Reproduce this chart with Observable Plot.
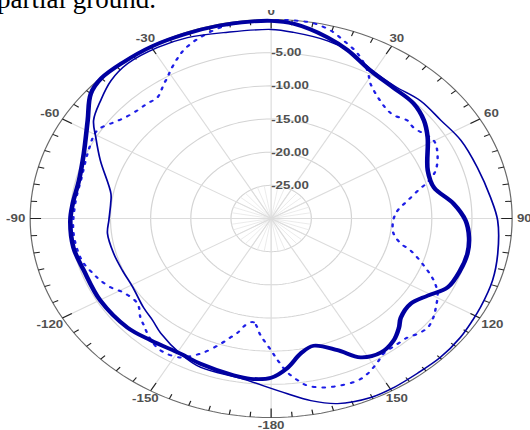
<!DOCTYPE html>
<html><head><meta charset="utf-8">
<script src="https://cdn.jsdelivr.net/npm/d3@7"></script>
<script src="https://cdn.jsdelivr.net/npm/@observablehq/plot@0.6"></script>
<style>
html,body{margin:0;padding:0;background:#fff;width:530px;height:430px;overflow:hidden;}
#wrap{position:relative;width:530px;height:430px;overflow:hidden;}
#cap{position:absolute;left:-3px;top:-14px;width:530px;height:24px;overflow:visible;background:#fff;font-family:"Liberation Serif","Times New Roman",serif;font-size:27px;line-height:27px;color:#000;white-space:nowrap;z-index:2;}
#chart{position:absolute;left:0;top:0;transform-origin:0 0;transform:scaleX(1.211);}
</style></head><body>
<div id="wrap"><div id="cap">partial ground.</div><div id="chart"></div></div>
<script>
// ---- data (angle in degrees, gain in dB) ----
const thickAngles = [-174,-168.8,-158.1,-151,-140.8,-132.6,-120.2,-108.5,-100.1,-90.7,-84.8,-76.6,-67.2,-57.1,-50,-45,-38.2,-29.6,-21.2,-12.8,-4.9,0,5.4,14.4,20.6,29,37.7,45.6,52.1,57.9,69.6,77,84.3,90.7,96.6,102.2,108.4,115.3,120.8,126.4,132.8,136,140.4,146,152,157.4,164.6,169.8,174.8,180];
const thickDb = [-5.7,-5.9,-6.4,-6.7,-6.3,-5.7,-5.4,-5.4,-5.0,-5.0,-5.2,-5.4,-4.7,-2.8,-0.7,-0.1,-0.1,-0.1,-0.2,-0.2,-0.2,-0.2,-0.5,-1.8,-2.9,-4.5,-5.1,-5.2,-5.9,-7.0,-9.2,-9.2,-7.2,-5.8,-5.2,-5.0,-5.2,-5.7,-7.3,-8.4,-8.0,-7.1,-6.1,-5.6,-6.3,-8.5,-10.1,-9.3,-7.4,-6.0];

const thinAngles = [-171.1,-158.7,-151,-141.6,-136.2,-130.2,-121.1,-113,-105.1,-96.3,-90.7,-83.6,-79.3,-67.6,-60.8,-56.2,-50,-43.8,-37.4,-28.7,-20.9,-10.9,0,5.7,14.7,20.6,29,37.7,46.3,55,63.5,73.4,83.4,90.6,100.6,108.7,117.2,121.5,127.3,134.8,142,149.1,155.3,163.5,169.8,175.6,180];
const thinDb = [-5.6,-5.9,-6.7,-7.9,-8.7,-9.2,-9.9,-9.9,-9.7,-9.5,-9.8,-9.9,-9.7,-7.0,-5.0,-3.4,-2.3,-1.2,-0.6,-0.6,-0.8,-1.4,-1.5,-1.8,-2.3,-2.9,-4.3,-4.8,-4.3,-4.2,-3.6,-3.2,-2.5,-1.8,-1.3,-0.9,-0.7,-0.6,-0.4,-0.3,-0.4,-0.3,-0.3,-0.9,-2.1,-3.5,-4.4];

const dotAngles = [-175.8,-172.1,-169.5,-166.4,-164.3,-161.6,-157.4,-154.9,-151.7,-146.5,-142.2,-138.4,-135.5,-132.6,-127.6,-121.3,-117.5,-113.8,-111,-105,-95,-85,-75,-65,-58.5,-53.6,-50.6,-45.6,-41.6,-37.8,-33.3,-31.2,-29.3,-25.8,-23.3,-20.2,-17.8,-13.1,-7.3,0,5.4,10.2,14.6,18.6,23.4,28.3,31.3,36,40.7,44.4,49,52.3,59.8,64.7,70.6,74.4,76.3,81,85.6,91.1,98.4,103.2,105.5,110.5,114.8,118.6,123.2,126.4,130.2,133.6,136.6,140.1,145.4,148.6,152.8,156.2,161.1,165.6,169.8,172.3,175,177.8,180];
const dotDb = [-12.3,-14.2,-13.9,-12.3,-11.4,-10.1,-8.1,-7.2,-6.2,-5.8,-6.1,-6.8,-7.4,-7.9,-9.0,-8.5,-7.5,-6.8,-6.4,-5.6,-5.3,-5.5,-5.6,-5.0,-4.6,-5.6,-6.2,-6.7,-6.8,-6.9,-5.7,-5.1,-4.4,-3.2,-2.4,-1.7,-1.3,-0.6,-0.2,-0.1,0,-0.1,-0.7,-1.7,-2.9,-4.7,-6.2,-7.4,-8.1,-8.2,-7.5,-7.6,-6.6,-7.1,-8.3,-9.8,-10.9,-12.8,-14.2,-14.8,-14.6,-13.4,-12.0,-9.7,-7.7,-6.4,-5.5,-4.9,-4.5,-4.8,-5.3,-5.4,-5.3,-4.6,-3.7,-3.3,-3.4,-3.7,-4.4,-5.4,-6.7,-8.6,-10.1];

const ringTicks = [-25, -20, -15, -10, -5];
const angleTicks = [0, 30, 60, 90, 120, 150, 180, -150, -120, -90, -60, -30];
const angleLabels = ["0","30","60","90","120","150","-180","-150","-120","-90","-60","-30"];
const innerSpokes = d3.range(0, 360, 10);

// ---- geometry helpers ----
const R = 199, W = 438;
const rScale = d3.scaleLinear().domain([-30, 0]).range([0, 1]);
const rad = a => a * Math.PI / 180;
const X = (a, r) => r * Math.sin(rad(a));
const Y = (a, r) => r * Math.cos(rad(a));
const series = (A, D) => A.map((a, i) => ({a, r: rScale(D[i])}));

const thick = series(thickAngles, thickDb);
const thin = series(thinAngles, thinDb);
const dots = series(dotAngles, dotDb);

const circleAngles = d3.range(0, 361, 2);
const rings = ringTicks.flatMap(v => circleAngles.map(a => ({v, a, r: rScale(v)})));
const outer = circleAngles.map(a => ({a, r: rScale(0)}));
const minorTicks = d3.range(-180, 180, 5).map(a => ({a, len: a % 30 === 0 ? 9 / R : 5 / R}));

// angle labels: box placed just outside the ring, pushed out by its half-extent along the direction
const labelRows = angleTicks.map((a, i) => {
  const t = angleLabels[i];
  const w = t.replace("-", "").length * 6.1 + (t.startsWith("-") ? 3.7 : 0);
  const h = 8;
  const s = Math.abs(Math.sin(rad(a))), c = Math.abs(Math.cos(rad(a)));
  const ext = Math.min(s > 1e-6 ? (w / 2) / s : 1e9, c > 1e-6 ? (h / 2) / c : 1e9);
  return {a, t, r: (R * 1.02 + ext) / R};
});

const chart = Plot.plot({
  width: W, height: 430,
  marginTop: 19, marginBottom: 13, marginLeft: 24.4, marginRight: W - 24.4 - 2 * R,
  x: {domain: [-1, 1], axis: null},
  y: {domain: [-1, 1], axis: null},
  style: {background: "transparent", overflow: "visible"},
  marks: [
    Plot.line(rings, {x: d => X(d.a, d.r), y: d => Y(d.a, d.r), z: "v", stroke: "#d4d4d4", strokeWidth: 1}),
    Plot.link(innerSpokes, {x1: 0, y1: 0, x2: a => X(a, rScale(-25)), y2: a => Y(a, rScale(-25)), stroke: "#e8e8e8", strokeWidth: 0.8}),
    Plot.link(angleTicks, {x1: 0, y1: 0, x2: a => X(a, 1), y2: a => Y(a, 1), stroke: "#dcdcdc", strokeWidth: 1}),
    Plot.line(outer, {x: d => X(d.a, d.r), y: d => Y(d.a, d.r), stroke: "#6a6a6a", strokeWidth: 1}),
    Plot.link(minorTicks, {x1: d => X(d.a, 1), y1: d => Y(d.a, 1), x2: d => X(d.a, 1 - d.len), y2: d => Y(d.a, 1 - d.len), stroke: "#222", strokeWidth: 1}),
    Plot.text(ringTicks, {x: 0, y: v => rScale(v), text: v => v.toFixed(2), textAnchor: "start", fill: "#505050", fontWeight: "bold", fontSize: 11, fontFamily: "Liberation Sans, Arial, sans-serif"}),
    Plot.text(labelRows, {x: d => X(d.a, d.r), y: d => Y(d.a, d.r), text: "t", fill: "#505050", fontWeight: "bold", fontSize: 11, fontFamily: "Liberation Sans, Arial, sans-serif"}),
    Plot.line(dots, {x: d => X(d.a, d.r), y: d => Y(d.a, d.r), curve: "catmull-rom-closed", stroke: "#1e1ee6", strokeWidth: 2, strokeDasharray: "2,6"}),
    Plot.line(thin, {x: d => X(d.a, d.r), y: d => Y(d.a, d.r), curve: "catmull-rom-closed", stroke: "#0000a0", strokeWidth: 1.4}),
    Plot.line(thick, {x: d => X(d.a, d.r), y: d => Y(d.a, d.r), curve: "catmull-rom-closed", stroke: "#0000a0", strokeWidth: 3.8})
  ]
});
document.getElementById("chart").appendChild(chart);
</script>
</body></html>
